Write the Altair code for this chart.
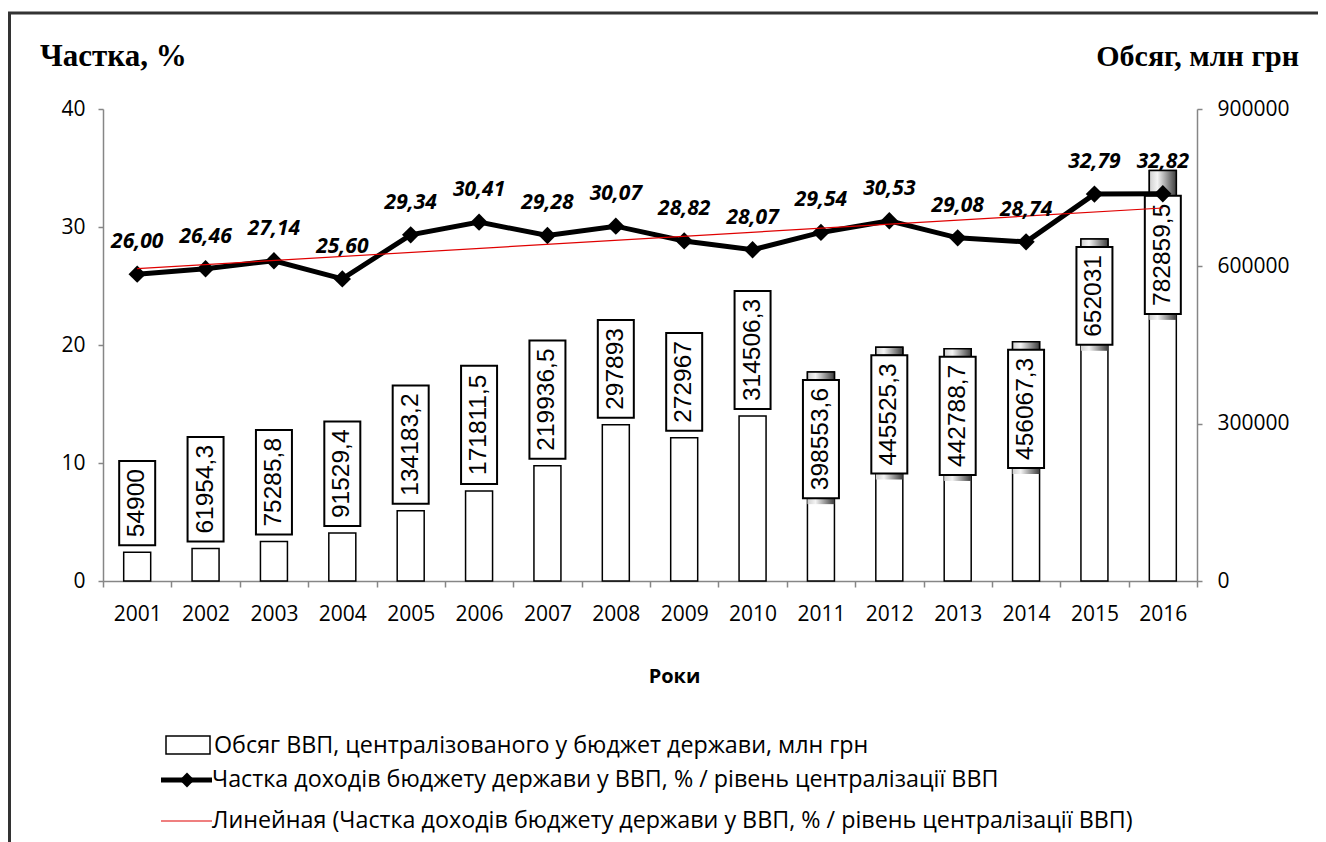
import altair as alt
import pandas as pd

years = [str(y) for y in range(2001, 2017)]
volume = [54900, 61954.3, 75285.8, 91529.4, 134183.2, 171811.5, 219936.5, 297893,
          272967, 314506.3, 398553.6, 445525.3, 442788.7, 456067.3, 652031, 782859.5]
share = [26.00, 26.46, 27.14, 25.60, 29.34, 30.41, 29.28, 30.07,
         28.82, 28.07, 29.54, 30.53, 29.08, 28.74, 32.79, 32.82]

left_ticks = [0, 10, 20, 30, 40]
right_ticks = [0, 300000, 600000, 900000]

legend_bar = "Обсяг ВВП, централізованого у бюджет держави, млн  грн"
legend_line = "Частка доходів бюджету держави у ВВП, % / рівень централізації ВВП"
legend_trend = "Линейная (Частка доходів бюджету держави у ВВП, % / рівень централізації ВВП)"

W, H = 1094, 472
VMAX = 900000
PMAX = 40
K = VMAX / H           # data units per pixel on the right axis
BOX_FS = 24.5
INSIDE_FROM = 350000   # bars above this carry their label inside the bar top


def fmt_vol(v):
    s = f"{v:.1f}".rstrip("0").rstrip(".")
    return s.replace(".", ",")


def box_len_px(s):
    d = sum(ch.isdigit() for ch in s)
    c = s.count(",")
    return d * 0.556 * BOX_FS + c * 0.278 * BOX_FS + 16


rows = []
for y, v, p in zip(years, volume, share):
    lab = fmt_vol(v)
    L = box_len_px(lab) * K
    inside = v > INSIDE_FROM
    if inside:
        point_level = p / PMAX * VMAX          # where the share marker sits
        hi = min(v - 8 * K, point_level - 2 * K)
        lo = hi - L
    else:
        lo = v + 7 * K
        hi = lo + L
    rows.append(dict(
        year=y, idx=int(y), volume=v, share=p, vlabel=lab,
        slabel=f"{p:.2f}".replace(".", ","),
        box_lo=lo, box_hi=hi, box_mid=(lo + hi) / 2, inside=inside,
        cap_top=v if inside else None, cap_bot=hi if inside else None,
        under_top=lo if inside else None, under_bot=(lo - 6 * K) if inside else None,
    ))
df = pd.DataFrame(rows)

AX = "#868686"
FONT = "Open Sans"

xscale = alt.Scale(domain=years, paddingInner=0, paddingOuter=0)
xaxis = alt.Axis(labelAngle=0, tickBand="extent", tickSize=6, labelPadding=16,
                 labelBaseline="top", title="Роки", titleFont=FONT, titleFontSize=20,
                 titleFontWeight="bold", titleX=571, titleY=95, titleBaseline="middle",
                 titleAlign="center", titleColor="black",
                 labelFont=FONT, labelFontSize=21, labelColor="black",
                 domainColor=AX, tickColor=AX, domainWidth=1.5, tickWidth=1.5, grid=False)
X = alt.X("year:N", scale=xscale, axis=xaxis)
Xn = alt.X("year:N", scale=xscale, axis=None)

yR = alt.Scale(domain=[0, VMAX], nice=False, zero=True)
yL = alt.Scale(domain=[0, PMAX], nice=False, zero=True)

axis_style = dict(labelFont=FONT, labelFontSize=21, labelColor="black",
                  domainColor=AX, tickColor=AX, domainWidth=1.5, tickWidth=1.5,
                  grid=False, title=None, tickSize=5)

base = alt.Chart(df)

bars = base.mark_bar(size=27, fill="white", stroke="black", strokeWidth=1.5).encode(
    x=X,
    y=alt.Y("volume:Q", scale=yR,
            axis=alt.Axis(orient="right", values=right_ticks, format="d",
                          labelPadding=15, **axis_style)),
)

grad = alt.Gradient(gradient="linear", x1=0, x2=1, y1=0, y2=0,
                    stops=[alt.GradientStop(color="#cfcfcf", offset=0),
                           alt.GradientStop(color="#f4f4f4", offset=0.3),
                           alt.GradientStop(color="#3c3c3c", offset=1)])

caps = base.transform_filter("datum.inside").mark_bar(
    size=27, fill=grad, stroke="black", strokeWidth=1.5).encode(
    x=Xn, y=alt.Y("cap_top:Q", scale=yR, axis=None), y2="cap_bot:Q")

unders = base.transform_filter("datum.inside").mark_bar(
    size=27, fill=grad, strokeWidth=0).encode(
    x=Xn, y=alt.Y("under_top:Q", scale=yR, axis=None), y2="under_bot:Q")

boxes = base.mark_bar(size=36, fill="white", stroke="black", strokeWidth=2).encode(
    x=Xn, y=alt.Y("box_lo:Q", scale=yR, axis=None), y2="box_hi:Q")

box_text = base.mark_text(angle=270, align="center", baseline="middle",
                          font="Liberation Sans", fontSize=BOX_FS, color="black").encode(
    x=Xn, y=alt.Y("box_mid:Q", scale=yR, axis=None), text="vlabel:N")

line = base.mark_line(color="black", strokeWidth=5).encode(
    x=Xn,
    y=alt.Y("share:Q", scale=yL,
            axis=alt.Axis(orient="left", values=left_ticks, labelPadding=13, **axis_style)),
)
points = base.mark_point(shape="diamond", filled=True, size=300, color="black",
                         opacity=1).encode(x=Xn, y=alt.Y("share:Q", scale=yL, axis=None))
labels = base.mark_text(font=FONT, fontSize=21, fontWeight="bold", fontStyle="italic",
                        baseline="alphabetic", dy=-26, color="black").encode(
    x=Xn, y=alt.Y("share:Q", scale=yL, axis=None), text="slabel:N")
# linear trend of the share series (independent variable: year index)
trend = base.transform_regression("idx", "share", method="linear").mark_line(
    color="#e00000", strokeWidth=1.2).encode(
    x=alt.X("idx:Q", scale=alt.Scale(domain=[2000.5, 2016.5], nice=False, zero=False),
            axis=None),
    y=alt.Y("share:Q", scale=yL, axis=None))

one = alt.Data(values=[{"k": 1}])


def txt(s, x, y, **kw):
    return alt.Chart(one).mark_text(**kw).encode(
        x=alt.value(x), y=alt.value(y), text=alt.value(s))


frame_top = alt.Chart(one).mark_rule(color="#333333", strokeWidth=3).encode(
    x=alt.value(-95), x2=alt.value(1215), y=alt.value(-96), y2=alt.value(-96))
frame_left = alt.Chart(one).mark_rule(color="#333333", strokeWidth=3).encode(
    x=alt.value(-93.5), x2=alt.value(-93.5), y=alt.value(-97), y2=alt.value(735))

title_l = txt("Частка, %", -63, -43, font="Liberation Serif", fontSize=31,
              fontWeight="bold", align="left", baseline="alphabetic", color="black")
title_r = txt("Обсяг, млн грн", 1196, -43, font="Liberation Serif", fontSize=30,
              fontWeight="bold", align="right", baseline="alphabetic", color="black")

LEG_FS = 23.3
leg_rect = alt.Chart(one).mark_rect(fill="white", stroke="black", strokeWidth=1.5).encode(
    x=alt.value(63), x2=alt.value(107), y=alt.value(627), y2=alt.value(645))
leg_t1 = txt(legend_bar, 111, 637, font=FONT, fontSize=LEG_FS, align="left",
             baseline="middle", color="black")
leg_l2 = alt.Chart(one).mark_rule(color="black", strokeWidth=5).encode(
    x=alt.value(58), x2=alt.value(109), y=alt.value(671), y2=alt.value(671))
leg_p2 = alt.Chart(one).mark_point(shape="diamond", filled=True, size=220, color="black",
                                   opacity=1).encode(x=alt.value(84), y=alt.value(671))
leg_t2 = txt(legend_line, 109, 671, font=FONT, fontSize=LEG_FS, align="left",
             baseline="middle", color="black")
leg_l3 = alt.Chart(one).mark_rule(color="#e00000", strokeWidth=1.2).encode(
    x=alt.value(58), x2=alt.value(109), y=alt.value(712), y2=alt.value(712))
leg_t3 = txt(legend_trend, 109, 712, font=FONT, fontSize=LEG_FS, align="left",
             baseline="middle", color="black")

chart = alt.layer(
    bars, caps, unders, boxes, box_text,
    line, points, trend, labels,
    frame_top, frame_left, title_l, title_r,
    leg_rect, leg_t1, leg_l2, leg_p2, leg_t2, leg_l3, leg_t3,
).resolve_scale(
    x="independent", y="independent"
).properties(
    width=W, height=H,
    background="white",
    autosize=alt.AutoSizeParams(type="none"),
    padding={"left": 95, "top": 101, "right": 121, "bottom": 262},
).configure_view(stroke=None)

chart.save("out.html", embed_options={"renderer": "svg", "actions": False})
